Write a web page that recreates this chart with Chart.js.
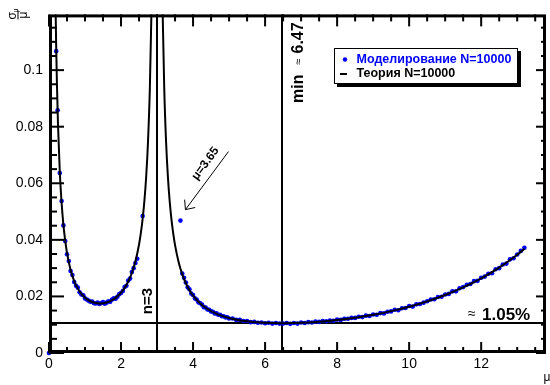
<!DOCTYPE html>
<html><head><meta charset="utf-8">
<script src="https://cdn.jsdelivr.net/npm/chart.js@4"></script>
<style>html,body{margin:0;padding:0;background:#fff;}</style>
</head><body>
<canvas id="c" width="550" height="385"></canvas>
<script>
// ---- data ----
const simMu = [0, 0.2, 0.24, 0.3, 0.35, 0.4, 0.45, 0.5, 0.55, 0.6, 0.65, 0.7, 0.75, 0.8, 0.85, 0.9, 0.95,
  1.0, 1.05, 1.1, 1.15, 1.2, 1.25, 1.3, 1.35, 1.4, 1.45, 1.5, 1.55, 1.6, 1.65, 1.7, 1.75, 1.8, 1.85, 1.9, 1.95,
  2.0, 2.05, 2.1, 2.15, 2.2, 2.25, 2.3, 2.35, 2.4, 2.45, 2.6,
  3.65,
  3.7, 3.75, 3.8, 3.85, 3.9, 3.95, 4.0, 4.05, 4.1, 4.15, 4.2, 4.25, 4.3, 4.35, 4.4, 4.45, 4.5, 4.55, 4.6, 4.65,
  4.7, 4.75, 4.8, 4.85, 4.9, 4.95, 5.0,
  5.1, 5.2, 5.3, 5.4, 5.5, 5.6, 5.7, 5.8, 5.9, 6.0, 6.1, 6.2, 6.3, 6.4, 6.5, 6.6, 6.7, 6.8, 6.9, 7.0,
  7.1, 7.2, 7.3, 7.4, 7.5, 7.6, 7.7, 7.8, 7.9, 8.0, 8.1, 8.2, 8.3, 8.4, 8.5, 8.6, 8.7, 8.8, 8.9, 9.0,
  9.1, 9.2, 9.3, 9.4, 9.5, 9.6, 9.7, 9.8, 9.9, 10.0, 10.1, 10.2, 10.3, 10.4, 10.5, 10.6, 10.7, 10.8, 10.9, 11.0,
  11.1, 11.2, 11.3, 11.4, 11.5, 11.6, 11.7, 11.8, 11.9, 12.0, 12.1, 12.2, 12.3, 12.4, 12.5, 12.6, 12.7, 12.8, 12.9, 13.0,
  13.1, 13.2];
const simSigma = [0, 0.1067, 0.0858, 0.0636, 0.0537, 0.0451, 0.0396, 0.0349, 0.0325, 0.0290, 0.0276, 0.0251, 0.0238, 0.0231, 0.0215, 0.0207, 0.0204,
  0.0193, 0.0189, 0.0185, 0.0181, 0.0182, 0.0176, 0.0175, 0.0178, 0.0173, 0.0177, 0.0180, 0.0174, 0.0178, 0.0183, 0.0181, 0.0189, 0.0193, 0.0192, 0.0199, 0.0208,
  0.0212, 0.0219, 0.0233, 0.0238, 0.0256, 0.0263, 0.0286, 0.0300, 0.0318, 0.0333, 0.0484,
  0.0468,
  0.0281, 0.0266, 0.0249, 0.0232, 0.0225, 0.0210, 0.0205, 0.0193, 0.0189, 0.0179, 0.0176, 0.0171, 0.0162, 0.0161, 0.0154, 0.0153, 0.0147, 0.0146, 0.0140, 0.0140,
  0.0135, 0.0135, 0.0130, 0.0130, 0.0126, 0.0126, 0.0122,
  0.0122, 0.0117, 0.0117, 0.0113, 0.0113, 0.0109, 0.0110, 0.0107, 0.0108, 0.0105, 0.0107, 0.0104, 0.0106, 0.0104, 0.0104, 0.0106, 0.0103, 0.0106, 0.0104, 0.0108,
  0.0106, 0.0109, 0.0108, 0.0111, 0.0110, 0.0113, 0.0112, 0.0115, 0.0114, 0.0118, 0.0117, 0.0121, 0.0121, 0.0124, 0.0124, 0.0128, 0.0127, 0.0132, 0.0131, 0.0136,
  0.0135, 0.0141, 0.0140, 0.0146, 0.0147, 0.0153, 0.0151, 0.0158, 0.0159, 0.0166, 0.0164, 0.0172, 0.0173, 0.0178, 0.0183, 0.0189, 0.0190, 0.0198, 0.0199, 0.0207,
  0.0209, 0.0218, 0.0218, 0.0229, 0.0233, 0.0241, 0.0244, 0.0254, 0.0255, 0.0266, 0.0270, 0.0280, 0.0282, 0.0296, 0.0300, 0.0313, 0.0316, 0.0331, 0.0335, 0.0348,
  0.0361, 0.0372];

const theoryMuLeft = [0.15, 0.18, 0.2, 0.22, 0.25, 0.3, 0.35, 0.4, 0.45, 0.5, 0.6, 0.7, 0.8, 0.9, 1.0, 1.1, 1.2, 1.3, 1.4, 1.5,
  1.6, 1.7, 1.8, 1.9, 2.0, 2.1, 2.2, 2.3, 2.4, 2.5, 2.55, 2.6, 2.65, 2.7, 2.75, 2.8, 2.85];
const theorySigmaLeft = [0.1594, 0.1244, 0.1080, 0.0953, 0.0807, 0.0640, 0.0531, 0.0453, 0.0397, 0.0354, 0.02935, 0.02544, 0.02276, 0.02089, 0.01957, 0.01864, 0.01803, 0.01767, 0.01753, 0.0176,
  0.01787, 0.01834, 0.01905, 0.02002, 0.02131, 0.02301, 0.02527, 0.02828, 0.03242, 0.03836, 0.04236, 0.04741, 0.05393, 0.06268, 0.07497, 0.09347, 0.12438];
const theoryMuRight = [3.15, 3.2, 3.25, 3.3, 3.35, 3.4, 3.45, 3.5, 3.6, 3.7, 3.8, 3.9, 4.0, 4.2, 4.4, 4.6, 4.8, 5.0, 5.25, 5.5,
  5.75, 6.0, 6.5, 7.0, 7.5, 8.0, 8.5, 9.0, 9.5, 10.0, 10.5, 11.0, 11.5, 12.0, 12.5, 13.0, 13.2];
const theorySigmaRight = [0.12436, 0.09344, 0.07492, 0.0626, 0.05383, 0.04726, 0.04218, 0.03813, 0.03209, 0.02782, 0.02465, 0.02221, 0.02029, 0.01748, 0.01555, 0.01416, 0.01314, 0.01237, 0.01168, 0.01119,
  0.01086, 0.01065, 0.01051, 0.01066, 0.01105, 0.01165, 0.01247, 0.01351, 0.0148, 0.01636, 0.01824, 0.0205, 0.02319, 0.02639, 0.0302, 0.03474, 0.0368];

const xTickValues = [0, 2, 4, 6, 8, 10, 12];
const xTickLabels = ['0', '2', '4', '6', '8', '10', '12'];
const yTickValues = [0, 0.02, 0.04, 0.06, 0.08, 0.1];
const yTickLabels = ['0', '0.02', '0.04', '0.06', '0.08', '0.1'];
const refMu = [3, 6.47];          // vertical reference lines
const refSigma = [0.0105];        // horizontal reference line
const outlierMu = 3.65, outlierSigma = 0.0468;
const labelSim = 'Моделирование N=10000';
const labelTheory = 'Теория N=10000';

const FONT = 'Liberation Sans, Arial, sans-serif';
const toXY = (xs, ys) => xs.map((v, i) => ({ x: v, y: ys[i] }));

const overlay = {
  id: 'overlay',
  beforeDatasetsDraw(chart) {
    const { ctx, chartArea: a, scales: { x, y } } = chart;
    ctx.save();
    ctx.strokeStyle = '#000'; ctx.lineWidth = 2;
    refMu.forEach(v => { const px = Math.round(x.getPixelForValue(v)); ctx.beginPath(); ctx.moveTo(px, a.top); ctx.lineTo(px, a.bottom); ctx.stroke(); });
    refSigma.forEach(v => { const py = Math.round(y.getPixelForValue(v)); ctx.beginPath(); ctx.moveTo(a.left, py); ctx.lineTo(a.right, py); ctx.stroke(); });
    ctx.restore();
  },
  afterDatasetsDraw(chart) {
    const { ctx, chartArea: a, scales: { x, y } } = chart;
    const line = (x1, y1, x2, y2) => { ctx.beginPath(); ctx.moveTo(x1, y1); ctx.lineTo(x2, y2); ctx.stroke(); };
    ctx.save();
    ctx.strokeStyle = '#000'; ctx.fillStyle = '#000';
    ctx.lineWidth = 3;
    ctx.strokeRect(a.left + 1.5, a.top + 1.5, a.right - a.left - 3, a.bottom - a.top - 3);
    ctx.lineWidth = 2;
    for (let k = 0; k * 0.5 <= x.max + 1e-9; k++) {
      const px = x.getPixelForValue(k * 0.5);
      const major = k % 4 === 0;
      line(px, a.bottom, px, a.bottom - (major ? 11 : 6));
      line(px, a.top, px, a.top + (major ? 12 : 7));
    }
    for (let k = 0; k * 0.005 <= y.max + 1e-9; k++) {
      const py = y.getPixelForValue(k * 0.005);
      const major = k % 4 === 0;
      line(a.left, py, a.left + (major ? 15 : 8), py);
      line(a.right, py, a.right - (major ? 10 : 5), py);
    }
    // n=3 label
    const p3 = x.getPixelForValue(refMu[0]);
    ctx.save(); ctx.translate(p3 - 9, 301); ctx.rotate(-Math.PI / 2);
    ctx.font = 'bold 15px ' + FONT; ctx.textAlign = 'center'; ctx.textBaseline = 'middle';
    ctx.fillText('n=3', 0, 0); ctx.restore();
    // min ≈ 6.47 label
    const pm = x.getPixelForValue(refMu[1]);
    ctx.save(); ctx.translate(pm + 17, 103); ctx.rotate(-Math.PI / 2);
    ctx.textAlign = 'left'; ctx.textBaseline = 'middle';
    ctx.font = 'bold 16px ' + FONT; ctx.fillText('min', 0, 0);
    ctx.font = '11px ' + FONT; ctx.fillText('≈', 38, 0);
    ctx.font = 'bold 16px ' + FONT; ctx.fillText('6.47', 49.5, 0);
    ctx.restore();
    // ≈ 1.05%
    ctx.textAlign = 'left'; ctx.textBaseline = 'alphabetic';
    ctx.font = '14px ' + FONT; ctx.fillText('≈', 468, 318);
    ctx.font = 'bold 17px ' + FONT; ctx.fillText('1.05%', 482, 319.5);
    // arrow to outlier
    const ox = x.getPixelForValue(outlierMu), oy = y.getPixelForValue(outlierSigma);
    const tx = ox + 5, ty = oy - 11, sx = ox + 48, sy = oy - 69;
    ctx.lineWidth = 1;
    line(sx, sy, tx, ty);
    const ang = Math.atan2(sy - ty, sx - tx);
    [0.72, -0.72].forEach(d => line(tx, ty, tx + 10 * Math.cos(ang + d), ty + 10 * Math.sin(ang + d)));
    ctx.save(); ctx.translate(ox + 25, oy - 57); ctx.rotate(Math.atan2(ty - sy, tx - sx) + Math.PI);
    ctx.font = 'bold 12px ' + FONT; ctx.textAlign = 'center'; ctx.textBaseline = 'middle';
    ctx.fillText('μ=3.65', 0, 0); ctx.restore();
    // legend box
    ctx.fillStyle = '#000'; ctx.fillRect(337, 51, 184, 36);
    ctx.fillStyle = '#fff'; ctx.fillRect(334, 48, 184, 36);
    ctx.lineWidth = 1; ctx.strokeRect(334.5, 48.5, 183, 35);
    ctx.fillStyle = '#0000ff'; ctx.beginPath(); ctx.arc(345, 59.5, 2.2, 0, Math.PI * 2); ctx.fill();
    ctx.font = 'bold 12.5px ' + FONT; ctx.textBaseline = 'middle';
    ctx.fillText(labelSim, 356.5, 59.5);
    ctx.fillStyle = '#000'; ctx.lineWidth = 2; line(340, 74, 347, 74);
    ctx.fillText(labelTheory, 356.5, 74);
    // axis titles
    ctx.font = '12px ' + FONT; ctx.textAlign = 'center'; ctx.textBaseline = 'alphabetic';
    ctx.fillText('μ', 547, 381);
    ctx.save(); ctx.translate(17.5, 19.5); ctx.rotate(-Math.PI / 2);
    ctx.textAlign = 'left';
    ctx.font = '12px ' + FONT; ctx.fillText('σ', 0, -2);
    ctx.font = '7px ' + FONT; ctx.fillText('μ', 7, 0);
    ctx.lineWidth = 1; line(0, 0.5, 9, 0.5);
    ctx.font = '12px ' + FONT; ctx.fillText('μ', 1, 9);
    ctx.restore();
    ctx.restore();
  }
};

const theoryStyle = { showLine: true, borderColor: '#000', borderWidth: 2, pointRadius: 0, cubicInterpolationMode: 'monotone', clip: 0, fill: false };
new Chart(document.getElementById('c'), {
  type: 'scatter',
  data: {
    datasets: [
      Object.assign({ label: labelTheory, data: toXY(theoryMuLeft, theorySigmaLeft) }, theoryStyle),
      Object.assign({ label: labelTheory + ' ', data: toXY(theoryMuRight, theorySigmaRight) }, theoryStyle),
      { label: labelSim, data: toXY(simMu, simSigma), backgroundColor: '#0000ff', borderWidth: 0, pointRadius: 2.3, showLine: false, clip: 3 }
    ]
  },
  options: {
    responsive: false, animation: false, events: [],
    layout: { padding: { left: 0, right: 3, top: 5, bottom: 0 } },
    plugins: { legend: { display: false }, tooltip: { enabled: false } },
    scales: {
      x: {
        type: 'linear', min: 0, max: 13.8,
        grid: { display: false, drawTicks: false }, border: { display: false },
        afterBuildTicks: s => { s.ticks = xTickValues.map(v => ({ value: v })); },
        afterFit: s => { s.height = 32; },
        ticks: { padding: 3, maxRotation: 0, autoSkip: false, color: '#000', font: { family: FONT, size: 14 }, callback: (v, i) => xTickLabels[i] }
      },
      y: {
        type: 'linear', min: 0, max: 0.1197,
        grid: { display: false, drawTicks: false }, border: { display: false },
        afterBuildTicks: s => { s.ticks = yTickValues.map(v => ({ value: v })); },
        afterFit: s => { s.width = 49; },
        ticks: { padding: 6, autoSkip: false, color: '#000', font: { family: FONT, size: 14 }, callback: (v, i) => yTickLabels[i] }
      }
    }
  },
  plugins: [overlay]
});
</script>
</body></html>
